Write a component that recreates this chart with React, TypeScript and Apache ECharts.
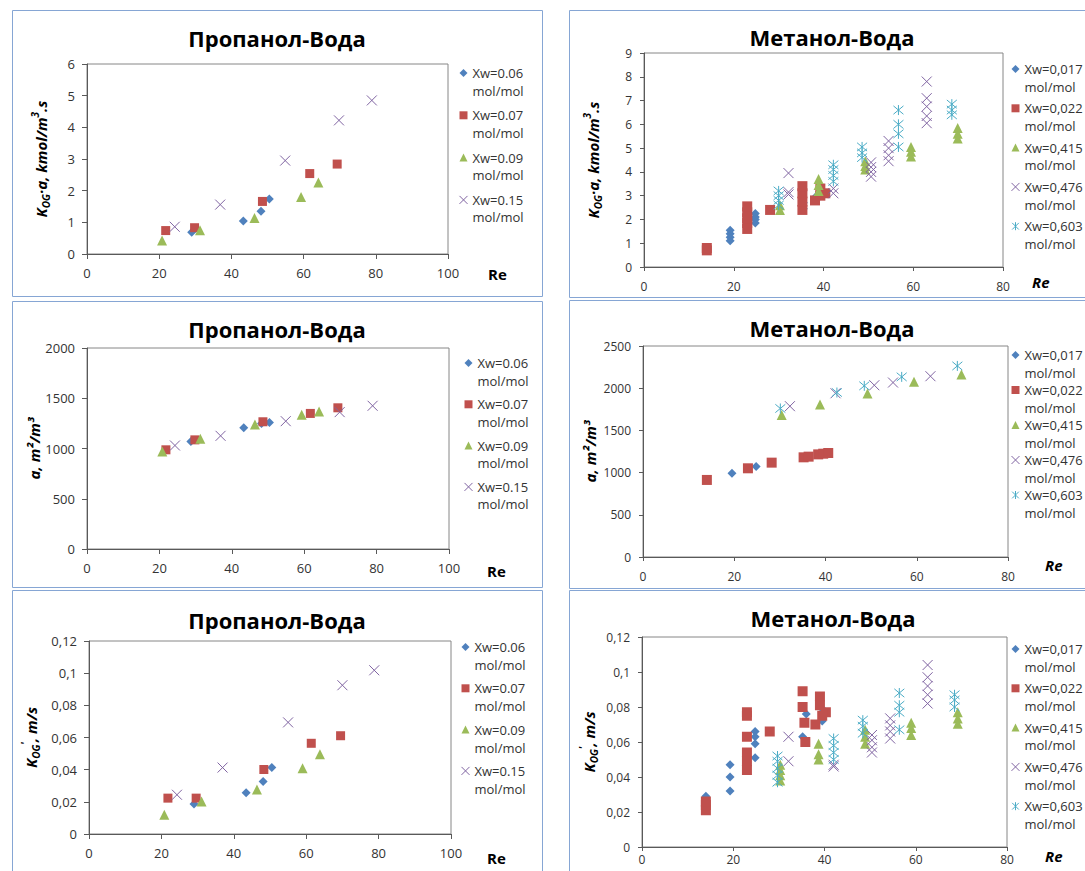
import React, { useEffect, useRef } from 'react';
import * as echarts from 'echarts';

// ---------- Data: Пропанол-Вода ----------
const propXw = ['Xw=0.06', 'Xw=0.07', 'Xw=0.09', 'Xw=0.15'];
const propKa006 = [[29.0, 0.69], [43.3, 1.04], [48.2, 1.35], [50.5, 1.74]];
const propKa007 = [[21.8, 0.74], [29.8, 0.83], [48.6, 1.66], [61.7, 2.54], [69.3, 2.84]];
const propKa009 = [[20.8, 0.43], [31.3, 0.75], [46.4, 1.14], [59.3, 1.8], [64.1, 2.26]];
const propKa015 = [[24.3, 0.86], [36.9, 1.56], [54.9, 2.95], [69.8, 4.22], [78.9, 4.85]];

const propA006 = [[28.7, 1070], [43.3, 1206], [48.2, 1250], [50.4, 1259]];
const propA007 = [[21.8, 987], [29.8, 1086], [48.6, 1266], [61.7, 1349], [69.3, 1405]];
const propA009 = [[20.8, 970], [31.3, 1096], [46.4, 1239], [59.3, 1336], [64.1, 1369]];
const propA015 = [[24.3, 1030], [36.9, 1126], [54.9, 1272], [69.8, 1362], [78.9, 1425]];

const propK006 = [[29.0, 0.0186], [43.4, 0.0256], [48.1, 0.0326], [50.5, 0.0413]];
const propK007 = [[21.8, 0.0223], [29.6, 0.0223], [48.3, 0.0401], [61.4, 0.0564], [69.5, 0.0611]];
const propK009 = [[20.8, 0.012], [31.1, 0.0202], [46.4, 0.0277], [59.0, 0.0409], [63.8, 0.0496]];
const propK015 = [[24.3, 0.0244], [36.9, 0.0413], [55.0, 0.0694], [70.0, 0.0925], [78.8, 0.1018]];

// ---------- Data: Метанол-Вода ----------
const metXw = ['Xw=0,017', 'Xw=0,022', 'Xw=0,415', 'Xw=0,476', 'Xw=0,603'];
const metKa017 = [[19.2, 1.1], [19.2, 1.25], [19.2, 1.4], [19.2, 1.55], [24.8, 1.85], [24.8, 2.0], [24.8, 2.1], [24.8, 2.25], [35.5, 2.45], [35.5, 2.7], [38.5, 2.85], [38.5, 3.0]];
const metKa022 = [[14, 0.7], [14, 0.8], [23, 1.6], [23, 1.85], [23, 2.05], [23, 2.3], [23, 2.55], [28.1, 2.4], [35.3, 2.4], [35.3, 2.75], [35.3, 3.1], [35.3, 3.4], [38.1, 2.8], [39.3, 3.0], [39.3, 3.3], [40.4, 3.1]];
const metKa415 = [[30.3, 2.4], [30.3, 2.6], [38.9, 3.2], [38.9, 3.45], [38.9, 3.7], [49.3, 4.1], [49.3, 4.25], [49.3, 4.45], [59.5, 4.65], [59.5, 4.85], [59.5, 5.05], [69.9, 5.4], [69.9, 5.6], [69.9, 5.85]];
const metKa476 = [[32.2, 3.05], [32.2, 3.15], [32.2, 3.95], [42.2, 3.1], [42.2, 3.3], [50.6, 3.8], [50.6, 4.0], [50.6, 4.2], [50.6, 4.4], [54.5, 4.45], [54.5, 4.7], [54.5, 5.0], [54.5, 5.3], [63.0, 6.05], [63.0, 6.35], [63.0, 6.75], [63.0, 7.1], [63.0, 7.8]];
const metKa603 = [[30.0, 2.6], [30.0, 2.8], [30.0, 3.0], [30.0, 3.2], [42.2, 3.6], [42.2, 3.85], [42.2, 4.1], [42.2, 4.3], [48.6, 4.6], [48.6, 4.8], [48.6, 5.05], [56.7, 5.05], [56.7, 5.6], [56.7, 6.0], [56.7, 6.6], [68.6, 6.4], [68.6, 6.6], [68.6, 6.85]];

const metA017 = [[19.5, 992], [24.8, 1071]];
const metA022 = [[14.0, 913], [23.0, 1051], [28.2, 1118], [35.2, 1181], [36.3, 1189], [38.4, 1216], [39.5, 1224], [40.6, 1232]];
const metA415 = [[30.4, 1681], [38.8, 1807], [49.2, 1937], [59.4, 2075], [69.8, 2161]];
const metA476 = [[32.2, 1787], [42.2, 1940], [50.7, 2035], [54.8, 2067], [63.0, 2142]];
const metA603 = [[30.1, 1760], [42.5, 1949], [48.5, 2028], [56.7, 2134], [68.9, 2264]];

const metK017 = [[14, 0.029], [19.3, 0.047], [19.3, 0.04], [19.3, 0.032], [24.8, 0.066], [24.8, 0.063], [24.8, 0.059], [24.8, 0.051], [35.2, 0.063], [36, 0.076], [39.5, 0.072], [39.5, 0.079]];
const metK022 = [[14, 0.021], [14, 0.024], [14, 0.026], [23, 0.077], [23, 0.075], [23, 0.063], [23, 0.054], [23, 0.049], [23, 0.044], [28, 0.066], [35.2, 0.089], [35.2, 0.08], [35.6, 0.071], [35.8, 0.06], [38, 0.07], [39, 0.086], [39, 0.081], [40.3, 0.077], [39.5, 0.075]];
const metK415 = [[30.3, 0.038], [30.3, 0.041], [30.3, 0.044], [30.3, 0.047], [38.7, 0.059], [38.7, 0.053], [38.7, 0.05], [48.9, 0.067], [48.9, 0.063], [48.9, 0.059], [59, 0.071], [59, 0.068], [59, 0.064], [69.2, 0.077], [69.2, 0.0735], [69.2, 0.0705]];
const metK476 = [[32.1, 0.063], [32.1, 0.049], [42, 0.047], [42, 0.046], [50.4, 0.064], [50.4, 0.061], [50.4, 0.057], [50.4, 0.054], [54.4, 0.0735], [54.4, 0.0695], [54.4, 0.066], [54.4, 0.062], [62.6, 0.104], [62.6, 0.097], [62.6, 0.092], [62.6, 0.087], [62.6, 0.082]];
const metK603 = [[29.7, 0.037], [29.7, 0.041], [29.7, 0.045], [29.7, 0.049], [29.7, 0.052], [42, 0.062], [42, 0.058], [42, 0.054], [42, 0.05], [48.4, 0.0725], [48.4, 0.069], [48.4, 0.065], [56.4, 0.088], [56.4, 0.081], [56.4, 0.077], [56.4, 0.067], [68.5, 0.087], [68.5, 0.084], [68.5, 0.08]];

const titleProp = 'Пропанол-Вода';
const titleMet = 'Метанол-Вода';
const unitLine = 'mol/mol';

// ---------- Styling ----------
const COLORS = ['#4F81BD', '#C0504D', '#9BBB59', '#8064A2', '#4BACC6'];
const CROSS = 'path://M0,0L10,10M10,0L0,10';
const STAR = 'path://M0,0L10,10M10,0L0,10M5,-1L5,11';
const SYMBOLS = ['diamond', 'rect', 'triangle', CROSS, STAR];
const FONT = 'Open Sans';

const nameKa = '{i|K}{s|OG}{i|·a, kmol/m}{p|3}{i|.s}';
const nameA = '{i|a, m²/m³}';
const nameK = "{i|K}{s|OG}{p|'}{i|, m/s}";

type PanelCfg = {
  title: string; tx: number; ty: number;
  grid: { left: number; top: number; width: number; height: number };
  xMax: number; yMax: number; yInt: number; comma: boolean;
  names: string[]; data: number[][][]; sizes: number[];
  yName: string; yGap: number; reGap: number; rePad: number; reItalic: boolean;
  lab: number; xMargin: number; legLeft: number; legFirst: number; legL: number; legEntry: number;
  border: number[]; tick: number;
};

const panels: PanelCfg[] = [
  {
    title: titleProp, tx: 277, ty: 38, grid: { left: 87, top: 64, width: 361, height: 190 },
    xMax: 100, yMax: 6, yInt: 1, comma: false, names: propXw,
    data: [propKa006, propKa007, propKa009, propKa015], sizes: [9, 9, 10, 10],
    yName: nameKa, yGap: 36, reGap: 40, rePad: 12, reItalic: false, lab: 13, xMargin: 12,
    legLeft: 459, legFirst: 73, legL: 17.5, legEntry: 42.3, border: [12, 10, 530, 286], tick: 5,
  },
  {
    title: titleProp, tx: 277, ty: 329, grid: { left: 87, top: 348, width: 362, height: 201 },
    xMax: 100, yMax: 2000, yInt: 500, comma: false, names: propXw,
    data: [propA006, propA007, propA009, propA015], sizes: [9, 9, 10, 10],
    yName: nameA, yGap: 41, reGap: 38, rePad: 14, reItalic: false, lab: 13, xMargin: 12,
    legLeft: 464, legFirst: 363, legL: 17.5, legEntry: 41.3, border: [12, 301, 530, 286], tick: 5,
  },
  {
    title: titleProp, tx: 277, ty: 620, grid: { left: 89, top: 641, width: 362, height: 193 },
    xMax: 100, yMax: 0.12, yInt: 0.02, comma: true, names: propXw,
    data: [propK006, propK007, propK009, propK015], sizes: [9, 9, 10, 10],
    yName: nameK, yGap: 48, reGap: 36, rePad: 16, reItalic: false, lab: 13, xMargin: 12,
    legLeft: 461, legFirst: 647, legL: 18, legEntry: 41.3, border: [12, 590, 530, 300], tick: 5,
  },
  {
    title: titleMet, tx: 832, ty: 37, grid: { left: 644, top: 53, width: 359, height: 214 },
    xMax: 80, yMax: 9, yInt: 1, comma: false, names: metXw,
    data: [metKa017, metKa022, metKa415, metKa476, metKa603], sizes: [9, 10, 10, 10, 10],
    yName: nameKa, yGap: 41, reGap: 29, rePad: 7, reItalic: true, lab: 12, xMargin: 13,
    legLeft: 1011, legFirst: 69, legL: 17.7, legEntry: 39.3, border: [569, 10, 540, 287], tick: 4,
  },
  {
    title: titleMet, tx: 832, ty: 328, grid: { left: 643, top: 346, width: 365, height: 211 },
    xMax: 80, yMax: 2500, yInt: 500, comma: false, names: metXw,
    data: [metA017, metA022, metA415, metA476, metA603], sizes: [9, 10, 10, 10, 10],
    yName: nameA, yGap: 43, reGap: 37, rePad: 0, reItalic: true, lab: 12, xMargin: 13,
    legLeft: 1011, legFirst: 355, legL: 17.5, legEntry: 35, border: [569, 300, 540, 288], tick: 4,
  },
  {
    title: titleMet, tx: 833, ty: 618, grid: { left: 642, top: 637, width: 365, height: 210 },
    xMax: 80, yMax: 0.12, yInt: 0.02, comma: true, names: metXw,
    data: [metK017, metK022, metK415, metK476, metK603], sizes: [9, 10, 10, 10, 10],
    yName: nameK, yGap: 43, reGap: 38, rePad: 1, reItalic: true, lab: 12, xMargin: 6,
    legLeft: 1011, legFirst: 649, legL: 17.7, legEntry: 39.3, border: [569, 590, 540, 300], tick: 4,
  },
];

function buildOption() {
  const title: any[] = [];
  const grid: any[] = [];
  const xAxis: any[] = [];
  const yAxis: any[] = [];
  const series: any[] = [];
  const legend: any[] = [];
  const graphic: any[] = [];

  panels.forEach((p, i) => {
    const [bx, by, bw, bh] = p.border;
    graphic.push({
      type: 'rect', silent: true, z: -1,
      shape: { x: bx + 0.5, y: by + 0.5, width: bw, height: bh },
      style: { fill: '#fff', stroke: '#86A6D4', lineWidth: 1 },
    });
    title.push({
      text: p.title, left: p.tx, top: p.ty, textAlign: 'center', textVerticalAlign: 'middle', padding: 0,
      textStyle: { fontFamily: FONT, fontSize: 22, fontWeight: 'bold', color: '#000' },
    });
    grid.push({ ...p.grid, show: true, borderColor: '#868686', borderWidth: 1, containLabel: false });
    const axisColor = '#595959';
    const fmt = (v: number) => {
      if (!p.comma) return String(Math.round(v));
      return v === 0 ? '0' : String(Math.round(v * 100) / 100).replace('.', ',');
    };
    xAxis.push({
      type: 'value', gridIndex: i, min: 0, max: p.xMax, interval: 20,
      splitLine: { show: false },
      axisLine: { show: true, onZero: false, lineStyle: { color: axisColor } },
      axisTick: { show: true, length: p.tick, lineStyle: { color: axisColor } },
      axisLabel: { fontFamily: FONT, fontSize: p.lab, color: '#333', margin: p.xMargin },
      name: 'Re', nameLocation: 'end', nameGap: p.reGap,
      nameTextStyle: {
        fontFamily: FONT, fontSize: 15, fontWeight: 'bold', fontStyle: p.reItalic ? 'italic' : 'normal',
        color: '#000', verticalAlign: 'top', padding: [p.rePad, 0, 0, 0],
      },
    });
    yAxis.push({
      type: 'value', gridIndex: i, min: 0, max: p.yMax, interval: p.yInt,
      splitLine: { show: false },
      axisLine: { show: true, onZero: false, lineStyle: { color: axisColor } },
      axisTick: { show: true, length: p.tick, lineStyle: { color: axisColor } },
      axisLabel: { fontFamily: FONT, fontSize: p.lab, color: '#333', margin: 12, formatter: fmt },
      name: p.yName, nameLocation: 'middle', nameGap: p.yGap, nameRotate: 90,
      nameTextStyle: {
        fontFamily: FONT, fontSize: 15, fontWeight: 'bold', fontStyle: 'italic', color: '#000',
        rich: {
          i: { fontFamily: FONT, fontSize: 15, fontWeight: 'bold', fontStyle: 'italic', color: '#000', lineHeight: 21 },
          s: { fontFamily: FONT, fontSize: 10, fontWeight: 'bold', fontStyle: 'italic', color: '#000', verticalAlign: 'bottom', lineHeight: 21 },
          p: { fontFamily: FONT, fontSize: 10, fontWeight: 'bold', fontStyle: 'italic', color: '#000', verticalAlign: 'top', lineHeight: 21 },
        },
      },
    });
    p.names.forEach((nm, s) => {
      const c = COLORS[s];
      const stroked = s >= 3;
      series.push({
        type: 'scatter', name: nm, xAxisIndex: i, yAxisIndex: i, data: p.data[s],
        symbol: SYMBOLS[s], symbolSize: p.sizes[s],
        itemStyle: stroked ? { color: c, borderColor: c, borderWidth: 1, opacity: 1 } : { color: c, opacity: 1 },
        emphasis: { disabled: true },
      });
    });
    const L = p.legL;
    legend.push({
      orient: 'vertical', left: p.legLeft, top: p.legFirst - 1.5 * L, padding: 0,
      itemWidth: 8, itemHeight: 8, itemGap: p.legEntry - 3 * L,
      selectedMode: false,
      data: p.names.map((nm, s) => (s >= 3 ? { name: nm, itemStyle: { borderWidth: 1 } } : { name: nm })),
      formatter: (n: string) => '\n' + n + '\n' + unitLine,
      textStyle: { fontFamily: FONT, fontSize: 13, color: '#333', lineHeight: L },
    });
  });

  return { animation: false, backgroundColor: '#fff', title, grid, xAxis, yAxis, series, legend, graphic };
}

export default function App() {
  const ref = useRef<HTMLDivElement>(null);
  useEffect(() => {
    if (!ref.current) return;
    const chart = echarts.init(ref.current, undefined, { renderer: 'svg' });
    chart.setOption(buildOption() as any);
    return () => chart.dispose();
  }, []);
  return <div ref={ref} style={{ position: 'fixed', left: 0, top: 0, width: 1085, height: 871 }} />;
}
